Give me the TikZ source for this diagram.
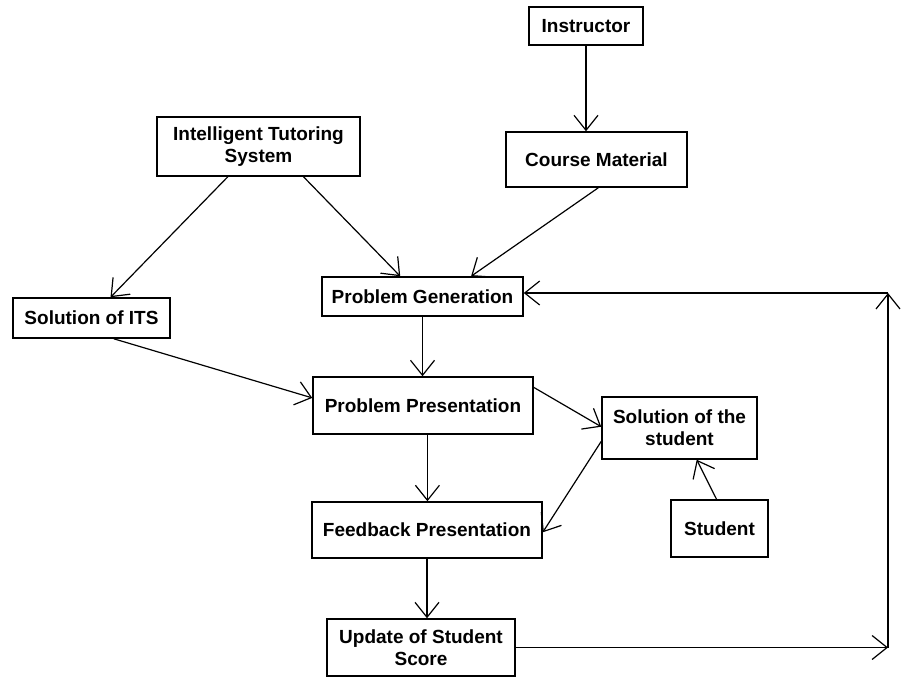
\documentclass[tikz,border=0pt]{standalone}
\usepackage{fontspec}
\setmainfont{Liberation Sans}
\usetikzlibrary{arrows.meta,calc}

\begin{document}
\begin{tikzpicture}[x=1pt,y=-1pt,
  box/.style={draw,line width=1.5pt,inner sep=0pt,align=center,
    font=\fontsize{19}{22}\selectfont\bfseries},
  link/.style={line width=1.2pt,-{Straight Barb[length=15pt,width=24pt,line width=1.2pt]}}]

\fill[white] (0,0) rectangle (902,677);
\useasboundingbox (0,0) rectangle (902,677);

% boxes: centre, width, height
\node[box,minimum width=114,minimum height=38] (IN) at (586,26) {Instructor};
\node[box,minimum width=181,minimum height=55] (CM) at (596.5,159.5) {Course Material};
\node[box,minimum width=203,minimum height=59] (ITS) at (258.5,146.5) {Intelligent Tutoring\\System};
\node[box,minimum width=157,minimum height=40] (SI) at (91.5,318) {Solution of ITS};
\node[box,minimum width=201,minimum height=39] (PG) at (422.5,296.5) {Problem Generation};
\node[box,minimum width=220,minimum height=57] (PP) at (423,405.5) {Problem Presentation};
\node[box,minimum width=155,minimum height=62] (SS) at (679.5,428) {Solution of the\\student};
\node[box,minimum width=230,minimum height=56] (FB) at (427,530) {Feedback Presentation};
\node[box,minimum width=97,minimum height=57] (ST) at (719.5,528.5) {Student};
\node[box,minimum width=188,minimum height=57] (UP) at (421,647.5) {Update of Student\\Score};

% corners of the feedback loop on the right
\coordinate (c1) at (888,647.5);
\coordinate (c2) at (888,293);
% foot of the presentation box, so its arrow runs straight down
\coordinate (pb) at ($(PP.south west)!0.52!(PP.south east)$);

% connectors
\draw[link] (IN.south) -- (IN.south |- CM.north);
\draw[link] ($(ITS.south west)!0.35!(ITS.south east)$) -- ($(SI.north west)!0.62!(SI.north east)$);
\draw[link] ($(ITS.south west)!0.72!(ITS.south east)$) -- ($(PG.north west)!0.39!(PG.north east)$);
\draw[link] ($(CM.south west)!0.51!(CM.south east)$) -- ($(PG.north west)!0.74!(PG.north east)$);
\draw[link] ($(SI.south west)!0.64!(SI.south east)$) -- ($(PP.north west)!0.37!(PP.south west)$);
\draw[link] (PG.south) -- (PG.south |- PP.north);
\draw[link] ($(PP.north east)!0.19!(PP.south east)$) -- ($(SS.north west)!0.48!(SS.south west)$);
\draw[link] ($(SS.north west)!0.71!(SS.south west)$) -- ($(FB.north east)!0.54!(FB.south east)$);
\draw[link] (pb) -- (pb |- FB.north);
\draw[link] ($(ST.north west)!0.47!(ST.north east)$) -- ($(SS.south west)!0.61!(SS.south east)$);
\draw[link] (FB.south) -- (FB.south |- UP.north);
\draw[link] (UP.east) -- (c1);
\draw[link] (c1) -- (c2);
\draw[link] (c2) -- (c2 -| PG.east);

\end{tikzpicture}
\end{document}
